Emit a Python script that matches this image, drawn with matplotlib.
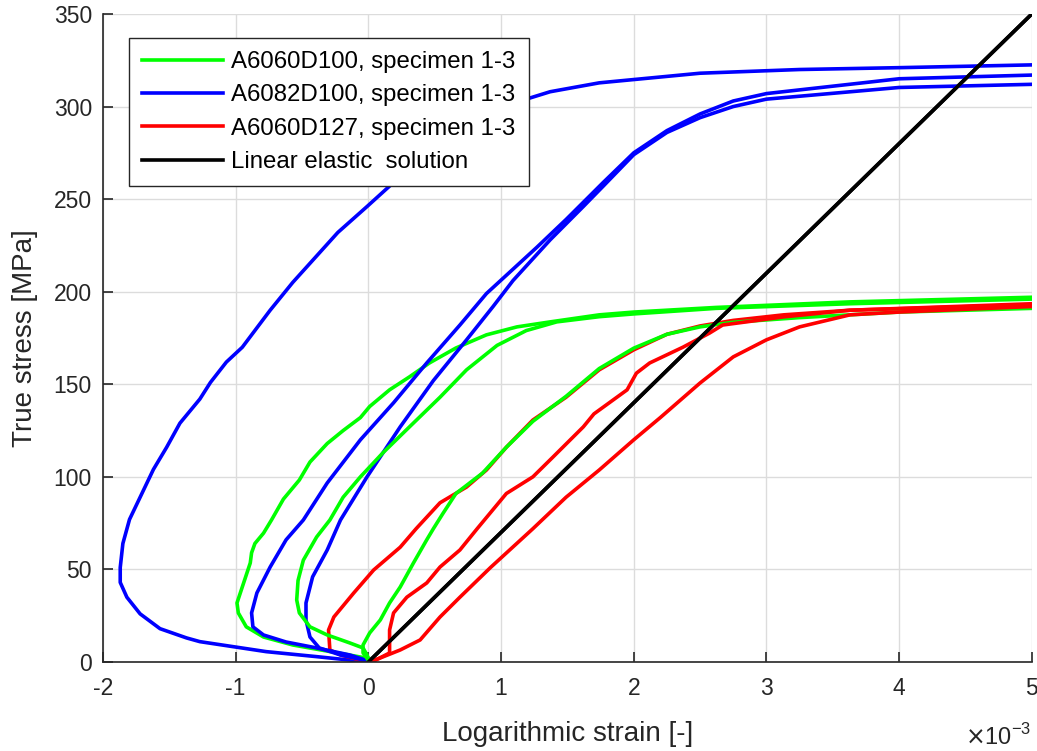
import numpy as np
import matplotlib.pyplot as plt

plt.rcParams['font.family'] = ['Liberation Sans', 'DejaVu Sans']
plt.rcParams['axes.unicode_minus'] = False

# strain in units of 1e-3, stress in MPa
# A6082D100 (blue)
b1_x = [0.0, -0.39, -0.77, -1.02, -1.27, -1.37, -1.57, -1.72, -1.82, -1.87, -1.87, -1.85, -1.80, -1.72,
        -1.62, -1.52, -1.42, -1.27, -1.19, -1.07, -0.95, -0.74, -0.57, -0.23, -0.01, 0.19, 0.40, 0.60,
        0.80, 1.00, 1.19, 1.37, 1.74, 2.50, 3.25, 4.0, 5.0]
b1_y = [0.0, 2.9, 5.6, 8.3, 11, 13, 18, 26, 35, 43, 51, 64, 77, 89,
        104, 116, 129, 142, 151, 162, 170, 190, 205, 232, 246, 259, 272, 283,
        292, 299, 304, 308, 312.8, 318, 320, 321, 322.5]

b2_x = [0.0, -0.14, -0.39, -0.62, -0.79, -0.87, -0.88, -0.84, -0.74, -0.62, -0.49, -0.31, -0.06, 0.19,
        0.44, 0.69, 0.89, 1.27, 1.49, 1.77, 2.0, 2.25, 2.5, 2.75, 3.0, 4.0, 5.0]
b2_y = [0.5, 3.8, 7.6, 10.8, 14.6, 19, 26.5, 37.3, 51.3, 66, 76.7, 96.7, 120, 140,
        161.5, 182, 199, 224, 239, 259, 275, 287, 296, 303, 307, 315, 317]

b3_x = [0.0, -0.21, -0.37, -0.44, -0.47, -0.47, -0.42, -0.31, -0.21, -0.01, 0.24, 0.49, 0.74, 0.94,
        1.09, 1.37, 1.62, 1.77, 2.0, 2.25, 2.5, 2.75, 3.0, 4.0, 5.0]
b3_y = [0.5, 3.8, 7.6, 13.5, 22.7, 31.9, 46, 60.5, 76.7, 100, 127, 152, 174, 192,
        206, 228, 246, 257, 274, 286, 294, 300, 304, 310.3, 312]

# A6060D100 (green)
g1_x = [0.0, -0.06, -0.27, -0.57, -0.79, -0.92, -0.98, -0.99, -0.94, -0.89, -0.88, -0.855, -0.79, -0.73,
        -0.64, -0.52, -0.44, -0.31, -0.19, -0.06, 0.01, 0.16, 0.31, 0.46, 0.66, 0.89, 1.12, 1.37,
        1.74, 2.0, 2.62, 3.63, 5.0]
g1_y = [2.0, 2.7, 5.4, 9.2, 13.5, 19, 26.5, 31.9, 42.7, 53.5, 59, 64, 69.6, 76.7,
        88, 98.3, 108, 118, 125, 132, 138, 147, 154, 161.5, 169.6, 176.7, 181, 183.7,
        187.5, 189, 191.5, 194.5, 197]

g2_x = [0.0, -0.01, -0.04, -0.14, -0.31, -0.44, -0.52, -0.54, -0.53, -0.49, -0.39, -0.29, -0.19, -0.06,
        0.11, 0.31, 0.54, 0.74, 0.97, 1.19, 1.42, 1.74, 2.0, 2.62, 3.63, 5.0]
g2_y = [2.0, 3.8, 7.6, 10.3, 14.6, 19, 26.5, 33.5, 44, 55, 67.5, 76.7, 89, 100,
        113, 127, 143, 157.8, 171, 179, 183.7, 186.5, 188, 191, 193.5, 196]

g3_x = [0.01, -0.04, -0.04, 0.01, 0.09, 0.16, 0.24, 0.34, 0.44, 0.49, 0.56, 0.66, 0.86, 1.04,
        1.24, 1.49, 1.74, 2.0, 2.25, 2.5, 2.75, 3.25, 4.0, 5.0]
g3_y = [0.0, 4.9, 9.2, 15.7, 22.7, 31.9, 40.5, 53.5, 66, 72, 80, 91, 102, 116,
        130, 143.5, 158.5, 169.5, 177, 181, 183.5, 186, 189, 191]

# A6060D127 (red)
r1_x = [0.0, -0.21, -0.29, -0.30, -0.26, -0.11, 0.04, 0.24, 0.36, 0.54, 0.74, 0.89, 1.04, 1.24,
        1.49, 1.74, 2.0, 2.25, 2.5, 2.75, 3.13, 3.63, 5.0]
r1_y = [0.0, 3.8, 6.5, 17.3, 24.3, 37.3, 49.7, 62, 72, 86, 94.5, 103.7, 116, 130.7,
        143, 157.8, 168.6, 177, 181.5, 184.5, 187.5, 190, 193.5]

r2_x = [0.04, 0.16, 0.16, 0.19, 0.29, 0.44, 0.54, 0.69, 0.82, 1.04, 1.24, 1.39, 1.62, 1.70,
        1.95, 2.02, 2.12, 2.37, 2.57, 2.67, 3.13, 3.63, 5.0]
r2_y = [0.5, 4.9, 17.3, 26.5, 35, 42.7, 51.3, 60.5, 72, 91, 100, 110.6, 127, 134,
        147, 156, 161.5, 170, 177.6, 182, 186.4, 190, 193]

r3_x = [0.01, 0.09, 0.24, 0.39, 0.54, 0.69, 0.92, 1.24, 1.49, 1.74, 2.0, 2.2, 2.5, 2.75,
        3.0, 3.25, 3.63, 4.0, 5.0]
r3_y = [0.0, 2.2, 6.5, 11.9, 24.3, 35, 51, 72, 89, 103.7, 120, 132, 150.7, 164.8,
        174, 181, 187.5, 189, 192]

lin_x = [0.0, 5.0]
lin_y = [0.0, 350.0]

labels = ['A6060D100, specimen 1-3', 'A6082D100, specimen 1-3',
          'A6060D127, specimen 1-3', 'Linear elastic  solution']

green = '#00ff00'
blue = '#0000ff'
red = '#ff0000'
dark = '#262626'

fig = plt.figure(figsize=(10.37, 7.51), dpi=100)
ax = fig.add_axes([0.0993, 0.1185, 0.8957, 0.8629])

lw = 2.6
ax.plot(g1_x, g1_y, color=green, lw=lw, label=labels[0])
ax.plot(b1_x, b1_y, color=blue, lw=lw, label=labels[1])
ax.plot(r1_x, r1_y, color=red, lw=lw, label=labels[2])
ax.plot(lin_x, lin_y, color='black', lw=lw, label=labels[3])
ax.plot(b2_x, b2_y, color=blue, lw=lw)
ax.plot(b3_x, b3_y, color=blue, lw=lw)
ax.plot(g2_x, g2_y, color=green, lw=lw)
ax.plot(g3_x, g3_y, color=green, lw=lw)
ax.plot(r2_x, r2_y, color=red, lw=lw)
ax.plot(r3_x, r3_y, color=red, lw=lw)
ax.plot(lin_x, lin_y, color='black', lw=lw)

ax.set_xlim(-2, 5)
ax.set_ylim(0, 350)
ax.set_xticks(range(-2, 6))
ax.set_yticks(range(0, 351, 50))
ax.grid(True, color='#dcdcdc', lw=1)
ax.set_axisbelow(True)
for s in ['top', 'right']:
    ax.spines[s].set_visible(False)
for s in ['left', 'bottom']:
    ax.spines[s].set_color(dark)
    ax.spines[s].set_linewidth(1.2)
ax.tick_params(direction='in', length=7, width=1.2, color=dark,
               labelsize=16.5, labelcolor=dark)
ax.tick_params(axis='x', pad=11)
ax.tick_params(axis='y', pad=8)

ax.set_xlabel('Logarithmic strain [-]', fontsize=20, color=dark, labelpad=15)
ax.set_ylabel('True stress [MPa]', fontsize=20, color=dark, labelpad=11)
ax.text(1.0, -0.095, r'$\times$10$^{\mathregular{-3}}$', transform=ax.transAxes, ha='right', va='top',
        fontsize=17, color=dark)

leg = ax.legend(loc='upper left', bbox_to_anchor=(0.028, 0.963), fontsize=17.3,
                handlelength=3.35, fancybox=False, framealpha=1, edgecolor=dark,
                borderpad=0.55, labelspacing=0.47, handletextpad=0.35, borderaxespad=0)
leg.get_frame().set_linewidth(1.0)

fig.savefig('out.png', dpi=100)
